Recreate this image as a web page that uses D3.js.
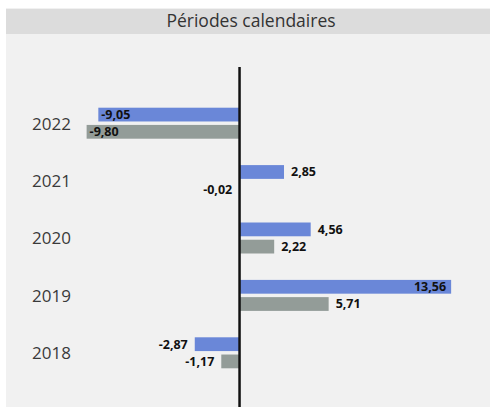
<!DOCTYPE html>
<html>
<head>
  <meta charset="utf-8">
  <script src="https://d3js.org/d3.v7.min.js"></script>
  <style>
    body { margin: 0; background: #fff; }
  </style>
</head>
<body>
  <svg id="canvas" width="490" height="407"></svg>
  <script>
    // data
    const years = ["2022", "2021", "2020", "2019", "2018"];
    const seriesA = [-9.05, 2.85, 4.56, 13.56, -2.87];   // blue
    const seriesB = [-9.80, -0.02, 2.22, 5.71, -1.17];   // grey
    const title = "Périodes calendaires";

    const svg = d3.select("#canvas");
    const width = +svg.attr("width");
    const height = +svg.attr("height");

    const fr = d3.formatLocale({ decimal: ",", thousands: " ", grouping: [3], currency: ["", " €"], minus: "-" });
    const fmt = fr.format(".2f");

    // panel + header
    svg.append("rect").attr("x", 6).attr("y", 8).attr("width", width - 6).attr("height", height - 8).attr("fill", "#f1f1f1");
    svg.append("rect").attr("x", 6).attr("y", 9).attr("width", width - 6).attr("height", 25).attr("fill", "#dcdcdc");
    svg.append("text")
      .attr("x", 251).attr("y", 27)
      .attr("text-anchor", "middle")
      .attr("font-family", "Open Sans")
      .attr("font-size", 17.5)
      .attr("fill", "#333")
      .text(title);

    const x = d3.scaleLinear().domain([-10, 14]).range([83.5, 458]);
    const y = d3.scaleBand().domain(years).range([95, 382]);
    const sub = d3.scaleBand().domain(["a", "b"]).range([-16, 15]).paddingInner(0.2);

    const rows = years.map((yr, i) => ({ year: yr, a: seriesA[i], b: seriesB[i] }));

    const g = svg.append("g");

    // year labels
    g.selectAll("text.year")
      .data(years)
      .join("text")
      .attr("class", "year")
      .attr("x", 32)
      .attr("y", d => y(d) + y.bandwidth() / 2)
      .attr("dy", "0.35em")
      .attr("font-family", "Open Sans")
      .attr("font-size", 17)
      .attr("fill", "#3a3a3a")
      .text(d => d);

    const colors = { a: "#6a87d8", b: "#939c98" };
    const bars = rows.flatMap(r => ["a", "b"].map(k => ({ year: r.year, key: k, v: r[k] })));

    g.selectAll("rect.bar")
      .data(bars)
      .join("rect")
      .attr("class", "bar")
      .attr("x", d => x(Math.min(0, d.v)))
      .attr("width", d => Math.abs(x(d.v) - x(0)))
      .attr("y", d => y(d.year) + y.bandwidth() / 2 + sub(d.key))
      .attr("height", sub.bandwidth())
      .attr("fill", d => colors[d.key]);

    // value labels: inside the bar end when the bar is long, outside otherwise
    g.selectAll("text.val")
      .data(bars)
      .join("text")
      .attr("class", "val")
      .attr("x", d => {
        const inside = Math.abs(d.v) > 9;
        if (d.v >= 0) return inside ? x(d.v) - 5 : x(d.v) + 7;
        return inside ? x(d.v) + 3 : x(d.v) - 7;
      })
      .attr("text-anchor", d => {
        const inside = Math.abs(d.v) > 9;
        return (d.v >= 0) === inside ? "end" : "start";
      })
      .attr("y", d => y(d.year) + y.bandwidth() / 2 + sub(d.key) + sub.bandwidth() / 2)
      .attr("dy", "0.35em")
      .attr("font-family", "Open Sans")
      .attr("font-weight", "bold")
      .attr("font-size", 12.5)
      .attr("fill", "#111")
      .text(d => fmt(d.v));

    // zero line
    svg.append("line")
      .attr("x1", x(0)).attr("x2", x(0))
      .attr("y1", 67).attr("y2", height)
      .attr("stroke", "#111")
      .attr("stroke-width", 2.5);
  </script>
</body>
</html>
